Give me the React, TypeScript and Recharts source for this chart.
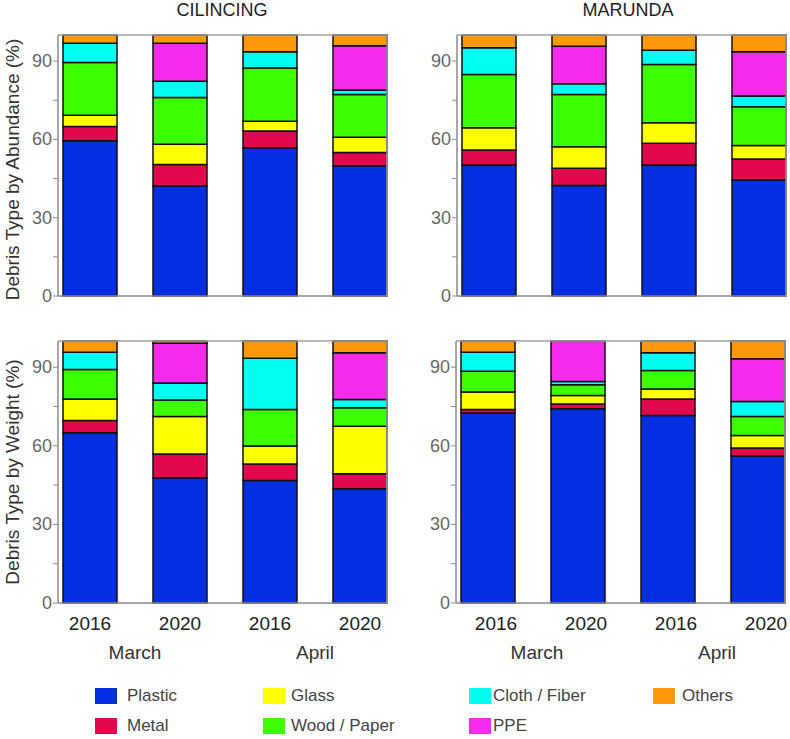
import { BarChart, Bar, XAxis, YAxis, ReferenceLine } from 'recharts';

const YEARS = ['2016', '2020', '2016', '2020'];
const MONTHS = ['March', 'March', 'April', 'April'];
const Y_TICKS = [0, 15, 30, 45, 60, 75, 90];

const SERIES = [
  { key: 'plastic', name: 'Plastic', color: '#042fe0' },
  { key: 'metal', name: 'Metal', color: '#e1094b' },
  { key: 'glass', name: 'Glass', color: '#ffff00' },
  { key: 'wood', name: 'Wood / Paper', color: '#3dff00' },
  { key: 'cloth', name: 'Cloth / Fiber', color: '#00fff0' },
  { key: 'ppe', name: 'PPE', color: '#f52aeb' },
  { key: 'others', name: 'Others', color: '#ff980a' },
];

// % by abundance / weight, one entry per bar (Mar 2016, Mar 2020, Apr 2016, Apr 2020)
const cilincingAbundance = {
  plastic: [59.5, 42.1, 56.8, 49.8],
  metal: [5.4, 8.3, 6.4, 5.2],
  glass: [4.4, 7.7, 3.8, 5.8],
  wood: [20.2, 18.0, 20.4, 16.4],
  cloth: [7.3, 6.2, 6.2, 1.7],
  ppe: [0, 14.5, 0, 17.0],
  others: [3.2, 3.2, 6.4, 4.1],
};

const marundaAbundance = {
  plastic: [50.2, 42.3, 50.2, 44.4],
  metal: [5.7, 6.6, 8.3, 8.1],
  glass: [8.6, 8.3, 7.9, 5.2],
  wood: [20.4, 20.0, 22.3, 14.8],
  cloth: [10.2, 4.1, 5.5, 4.1],
  ppe: [0, 14.4, 0, 17.0],
  others: [4.9, 4.3, 5.8, 6.4],
};

const cilincingWeight = {
  plastic: [65.0, 47.7, 46.8, 43.6],
  metal: [4.7, 9.2, 6.3, 5.7],
  glass: [8.2, 14.3, 6.8, 18.2],
  wood: [11.2, 6.3, 14.0, 7.0],
  cloth: [6.6, 6.5, 19.5, 3.2],
  ppe: [0, 15.1, 0, 17.8],
  others: [4.3, 0.9, 6.6, 4.5],
};

const marundaWeight = {
  plastic: [72.5, 74.1, 71.6, 56.1],
  metal: [1.4, 1.9, 6.3, 3.1],
  glass: [6.6, 3.2, 3.8, 4.7],
  wood: [8.0, 4.1, 7.0, 7.3],
  cloth: [7.2, 1.2, 6.8, 5.7],
  ppe: [0, 15.5, 0, 16.3],
  others: [4.3, 0, 4.5, 6.8],
};

const FONT = '"Liberation Sans", Arial, sans-serif';
const BAND = 90;

type PanelProps = {
  values: Record<string, number[]>;
  left: number;
  top: number;
  withYears: boolean;
  yLabel?: string;
  labelDy?: number;
  tickDx?: number;
};

function Panel({ values, left, top, withYears, yLabel, labelDy = 0, tickDx = 0 }: PanelProps) {
  const rows = YEARS.map((year, i) => {
    const row: Record<string, string | number> = { idx: i, year, month: MONTHS[i] };
    SERIES.forEach((s) => { row[s.key] = values[s.key][i]; });
    return row;
  });

  const plotH = withYears ? 262 : 261;
  const axisH = withYears ? 60 : 4;
  const bottom = withYears ? 0 : 10;
  const height = 35 + plotH + axisH + bottom;

  const yTick = (p: any) => {
    const v = p.payload.value;
    if (v % 30 !== 0) return <g />;
    return (
      <text x={p.x} y={p.y} textAnchor="end" dominantBaseline="central" fill="#666" fontSize={18} fontFamily={FONT}>
        {v}
      </text>
    );
  };

  const xTick = (p: any) => {
    const i = p.payload.value as number;
    return (
      <g>
        <text x={p.x + tickDx} y={p.y + 20} textAnchor="middle" dominantBaseline="central" fill="#222" fontSize={19} fontFamily={FONT}>
          {YEARS[i]}
        </text>
        {i % 2 === 0 && (
          <text x={p.x + BAND / 2 + tickDx / 2} y={p.y + 49} textAnchor="middle" dominantBaseline="central" fill="#333" fontSize={19} fontFamily={FONT}>
            {MONTHS[i]}
          </text>
        )}
      </g>
    );
  };

  const yLabelContent = (p: any) => {
    const vb = p.viewBox;
    const cx = 12;
    const cy = vb.y + vb.height / 2 + labelDy;
    return (
      <text x={cx} y={cy} transform={`rotate(-90, ${cx}, ${cy})`} textAnchor="middle" dominantBaseline="central" fill="#333" fontSize={19} fontFamily={FONT}>
        {yLabel}
      </text>
    );
  };

  return (
    <div style={{ position: 'absolute', left, top }}>
      <BarChart width={391} height={height} data={rows} margin={{ top: 35, right: 3, left: 0, bottom }} barCategoryGap={18}>
        <XAxis
          dataKey="idx"
          type="category"
          padding={{ left: -13, right: -18 }}
          height={axisH}
          axisLine={{ stroke: '#8a8a8a', strokeWidth: 1.5 }}
          tickLine={false}
          tickSize={0}
          tickMargin={0}
          tick={withYears ? xTick : false}
          interval={0}
        />
        <YAxis
          domain={[0, 100]}
          ticks={Y_TICKS}
          interval={0}
          width={58}
          tickSize={5}
          tickMargin={1}
          axisLine={{ stroke: '#8a8a8a', strokeWidth: 1.5 }}
          tickLine={{ stroke: '#8a8a8a' }}
          tick={yTick}
          label={yLabel ? { content: yLabelContent } : undefined}
        />
        <YAxis yAxisId="frame" orientation="right" domain={[0, 100]} width={1} tick={false} tickLine={false} axisLine={{ stroke: '#a0a0a0', strokeWidth: 1.5 }} />
        <ReferenceLine y={100} stroke="#a0a0a0" strokeWidth={1.5} />
        {SERIES.map((s) => (
          <Bar key={s.key} dataKey={s.key} stackId="a" fill={s.color} stroke="#111" strokeWidth={1.5} isAnimationActive={false} />
        ))}
      </BarChart>
    </div>
  );
}

export default function App() {
  return (
    <div style={{ position: 'absolute', left: 0, top: 0, width: 790, height: 739, background: '#fff', fontFamily: FONT }}>
      <div style={{ position: 'absolute', left: 122, width: 200, top: 0, textAlign: 'center', fontSize: 18, color: '#222', lineHeight: '20px' }}>CILINCING</div>
      <div style={{ position: 'absolute', left: 528, width: 200, top: 0, textAlign: 'center', fontSize: 18, color: '#222', lineHeight: '20px' }}>MARUNDA</div>

      <Panel values={cilincingAbundance} left={0} top={0} withYears={false} yLabel="Debris Type by Abundance (%)" labelDy={4} />
      <Panel values={marundaAbundance} left={399} top={0} withYears={false} />
      <Panel values={cilincingWeight} left={0} top={306} withYears yLabel="Debris Type by Weight (%)" />
      <Panel values={marundaWeight} left={398} top={306} withYears tickDx={8} />

      {SERIES.map((s, i) => {
        const cols = [95, 263, 469, 653];
        const textX = [127, 291, 493, 682];
        const col = Math.floor(i / 2);
        const cy = i % 2 === 0 ? 696 : 726;
        return (
          <div key={s.key}>
            <div style={{ position: 'absolute', left: cols[col], top: cy - 8, width: 22, height: 16, background: s.color }} />
            <div style={{ position: 'absolute', left: textX[col], top: cy - 10, fontSize: 17, lineHeight: '20px', color: '#444', whiteSpace: 'nowrap' }}>{s.name}</div>
          </div>
        );
      })}
    </div>
  );
}
